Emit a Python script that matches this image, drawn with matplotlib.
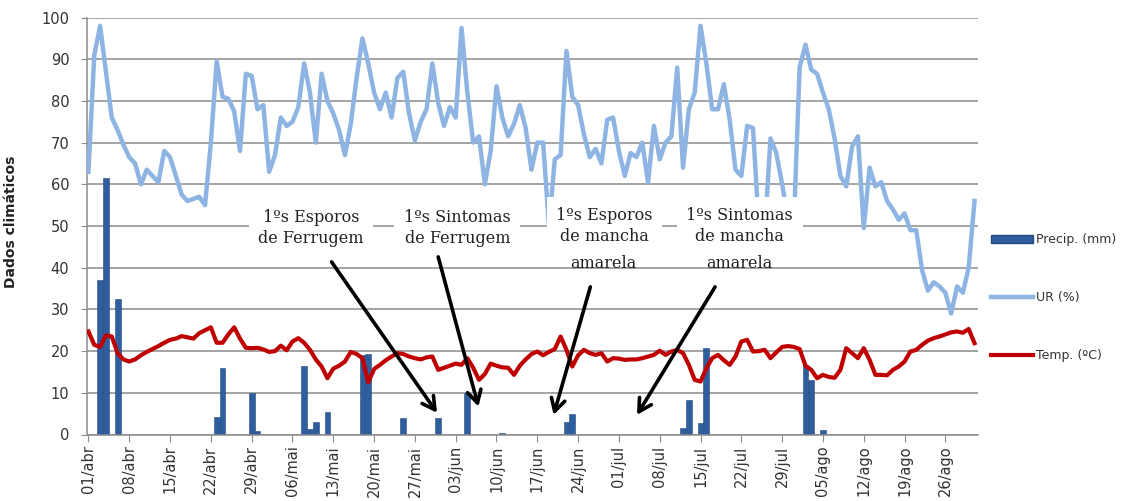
import numpy as np
import matplotlib
matplotlib.use("Agg")
import matplotlib.pyplot as plt
from matplotlib.patches import Patch
from matplotlib.lines import Line2D

# daily values, 01/abr .. 31/ago
ur = [63, 91, 98, 87, 76, 73, 69.5, 66.5, 65, 60,
      63.5, 62, 60.5, 68, 66.5, 62, 57.5, 56, 56.5, 57,
      55, 70, 89.5, 81, 80.5, 77.5, 68, 86.5, 86, 78,
      79, 63, 67, 76, 74, 75, 78.5, 89, 82, 70,
      86.5, 80, 77, 73, 67, 74.5, 85.5, 95, 89, 82,
      78, 82, 76, 85.5, 87, 77, 70.5, 75, 78, 89,
      79.5, 74, 78.5, 76, 97.5, 82, 70, 71.5, 60, 68,
      83.5, 76, 71.5, 74.5, 79, 73.5, 63.5, 70, 70, 50,
      66, 67, 92, 81, 79, 72, 66.5, 68.5, 65, 75.5,
      76, 68, 62, 67.5, 66.5, 70, 60.5, 74, 66, 70,
      71.5, 88, 64, 78, 82, 98, 89, 78, 78, 84,
      75.5, 63.5, 62, 74, 73.5, 50, 48, 71, 67.5, 60,
      52, 50, 88, 93.5, 87.5, 86.5, 82, 78, 71, 62,
      59.5, 69, 71.5, 49.5, 64, 59.5, 60.5, 56, 54, 51.5,
      53, 49, 49, 39.5, 34.5, 36.5, 35.5, 34, 29, 35.5,
      34, 40, 56]

temp = [24.7, 21.5, 21, 23.8, 23.5, 19.5, 18, 17.5, 18, 19,
        19.8, 20.5, 21.2, 22, 22.7, 23, 23.6, 23.3, 23, 24.3,
        25, 25.7, 22, 22, 24, 25.7, 23, 20.8, 20.7, 20.8,
        20.4, 19.8, 20, 21.3, 20.2, 22.3, 23.1, 22, 20.3, 18,
        16.3, 13.5, 15.8, 16.5, 17.5, 19.8, 19.3, 18.3, 12.5, 15.7,
        16.7, 17.8, 18.7, 19.5, 19.3, 18.7, 18.3, 18, 18.5, 18.7,
        15.5, 16, 16.5, 17, 16.7, 18.3, 16, 13.1, 14.5, 17,
        16.5, 16.1, 16, 14.3, 16.5, 18, 19.3, 19.9, 19, 19.8,
        20.5, 23.5, 20.3, 16.3, 19, 20.3, 19.5, 19.1, 19.5, 17.5,
        18.3, 18.2, 17.9, 18, 18, 18.3, 18.7, 19.1, 20.1, 19.1,
        19.9, 20.3, 19.5, 16.7, 13.1, 12.7, 15.9, 18.3, 19.1, 17.8,
        16.7, 18.7, 22.3, 22.7, 19.9, 20, 20.3, 18.3, 19.7, 21,
        21.2, 21, 20.5, 16.5, 15.5, 13.5, 14.3, 13.8, 13.6, 15.5,
        20.7, 19.5, 18.3, 20.7, 17.9, 14.3, 14.3, 14.2, 15.5, 16.3,
        17.5, 19.9, 20.3, 21.5, 22.5, 23.1, 23.5, 24, 24.5, 24.7,
        24.4, 25.3, 21.9]

# rain days (index from 01/abr) and amount
precip_days = [2, 3, 5, 22, 23, 28, 29, 37, 38, 39, 41, 47, 48, 54, 60,
               65, 71, 82, 83, 102, 103, 105, 106, 123, 124, 126]
precip_mm = [37, 61.5, 32.5, 4.3, 16, 10, 0.8, 16.5, 1.2, 3, 5.5, 19, 19.3, 4, 4,
             10, 0.4, 3, 4.8, 1.5, 8.3, 2.8, 20.8, 16.7, 13, 1.1]

tick_labels = ["01/abr", "08/abr", "15/abr", "22/abr", "29/abr", "06/mai",
               "13/mai", "20/mai", "27/mai", "03/jun", "10/jun", "17/jun",
               "24/jun", "01/jul", "08/jul", "15/jul", "22/jul", "29/jul",
               "05/ago", "12/ago", "19/ago", "26/ago"]

days = np.arange(len(ur))
precip = np.zeros(len(ur))
precip[precip_days] = precip_mm

W, H = 1124, 501
fig = plt.figure(figsize=(W / 100, H / 100), dpi=100)
ax = fig.add_axes([86.7 / W, 1 - 434.5 / H, (978 - 86.7) / W, (434.5 - 17.5) / H])

ax.bar(days, precip, width=1.0, color="#2E5E9E", edgecolor="#24497E", linewidth=0.4, zorder=2)
ax.plot(days, ur, color="#8DB4E2", lw=3.2, zorder=3, solid_joinstyle="round")
ax.plot(days, temp, color="#C00000", lw=3.0, zorder=3, solid_joinstyle="round")

ax.set_xlim(-0.3, 152.6)
ax.set_ylim(0, 100)
ax.set_yticks(range(0, 101, 10))
ax.set_xticks(range(0, 7 * len(tick_labels), 7))
ax.set_xticklabels(tick_labels, rotation=90)
ax.yaxis.grid(True, color="#8C8C8C", lw=1.1)
ax.set_axisbelow(True)

for s in ["top", "right"]:
    ax.spines[s].set_visible(False)
for s in ["left", "bottom"]:
    ax.spines[s].set_color("#8C8C8C")
    ax.spines[s].set_linewidth(1.1)

ax.tick_params(axis="y", length=4.5, color="#8C8C8C", pad=8, labelsize=10.5, labelcolor="#333333")
ax.tick_params(axis="x", length=5, color="#8C8C8C", pad=3, labelsize=10.5, labelcolor="#333333")

ax.set_ylabel("Dados climáticos", fontsize=10, fontweight="bold", color="#222222")
ax.yaxis.set_label_coords(-0.077, 0.51)

# annotation boxes
box = dict(boxstyle="square,pad=0.6", fc="white", ec="none")
serif = dict(family="DejaVu Serif", fontsize=11.5, ha="center", va="center",
             linespacing=1.33, color="#222222", zorder=5)
ax.text(38.2, 49.6, "1ºs Esporos\nde Ferrugem", bbox=box, **serif)
ax.text(63.3, 49.6, "1ºs Sintomas\nde Ferrugem", bbox=box, **serif)
ax.text(88.5, 50, "1ºs Esporos\nde mancha", bbox=box, **serif)
ax.text(88.3, 41.1, "amarela", **serif)
ax.text(111.7, 50, "1ºs Sintomas\nde mancha", bbox=box, **serif)
ax.text(111.7, 41.1, "amarela", **serif)

arrow = dict(arrowstyle="->,head_length=0.9,head_width=0.5", lw=2.6, color="black",
             shrinkA=0, shrinkB=0)
ax.annotate("", xy=(59.8, 5.2), xytext=(41.7, 41.4), arrowprops=arrow, zorder=6)
ax.annotate("", xy=(66.9, 6.7), xytext=(60.0, 42.6), arrowprops=arrow, zorder=6)
ax.annotate("", xy=(79.8, 4.7), xytext=(86.1, 35.4), arrowprops=arrow, zorder=6)
ax.annotate("", xy=(94.1, 4.7), xytext=(107.5, 35.4), arrowprops=arrow, zorder=6)

handles = [Patch(facecolor="#2E5E9E", edgecolor="#24497E"),
           Line2D([], [], color="#8DB4E2", lw=3.2),
           Line2D([], [], color="#C00000", lw=3.0)]
fig.legend(handles, ["Precip. (mm)", "UR (%)", "Temp. (ºC)"],
           loc="center left", bbox_to_anchor=(980 / W, 1 - 297.5 / H),
           frameon=False, fontsize=9, handlelength=3.3, handleheight=0.6,
           handletextpad=0.25, labelspacing=3.6, labelcolor="#333333")

fig.savefig("out.png", dpi=100)
